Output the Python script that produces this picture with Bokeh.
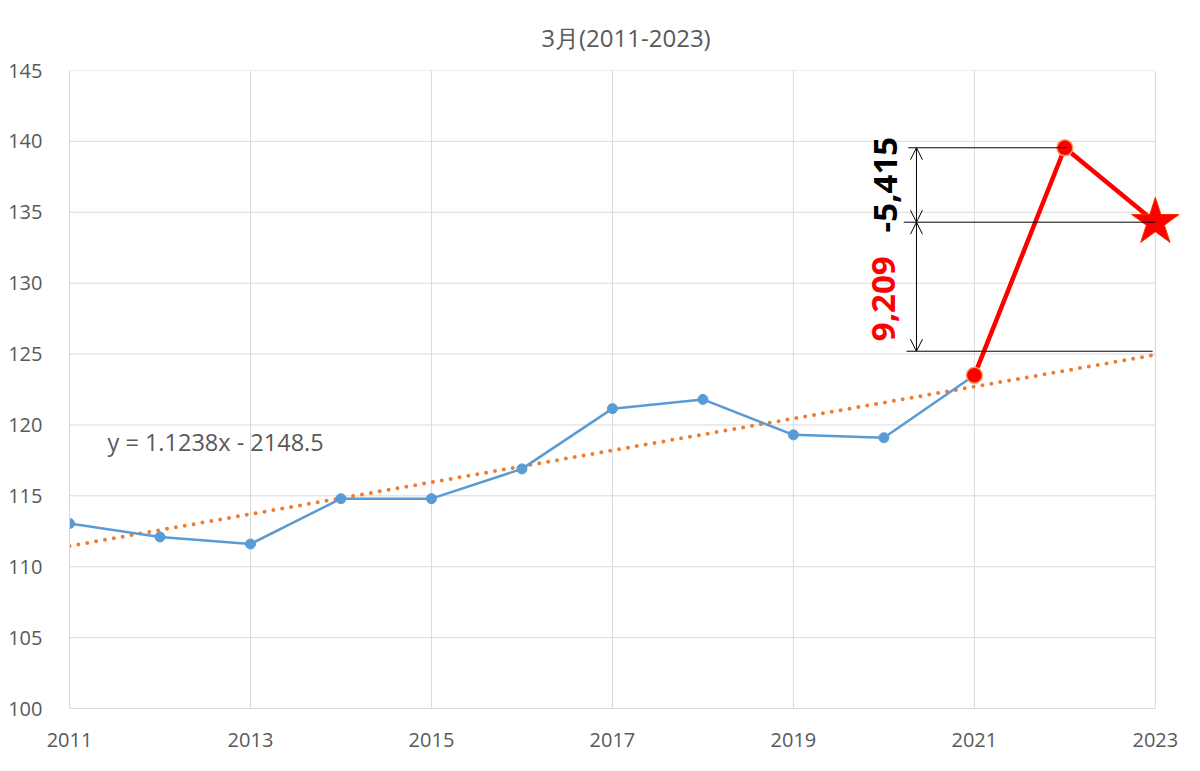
from bokeh.plotting import figure
from bokeh.models import Label, Arrow, OpenHead, FixedTicker, Range1d, Title
from bokeh.embed import file_html
from bokeh.resources import INLINE

# ---- data ----
years_blue = [2011, 2012, 2013, 2014, 2015, 2016, 2017, 2018, 2019, 2020, 2021]
values_blue = [113.05, 112.1, 111.6, 114.8, 114.8, 116.9, 121.15, 121.8, 119.3, 119.1, 123.5]
years_red = [2021, 2022, 2023]
values_red = [123.5, 139.55, 134.3]
trend_slope = 1.1238
trend_intercept = -2148.5
trend_years = [2011, 2023]
trend_values = [trend_slope * x + trend_intercept for x in trend_years]
x_ticks = [2011, 2013, 2015, 2017, 2019, 2021, 2023]
x_grid_years = [2013, 2015, 2017, 2019, 2021, 2023]
y_ticks = [100, 105, 110, 115, 120, 125, 130, 135, 140, 145]
title_text = "3月(2011-2023)"
equation_text = "y = 1.1238x - 2148.5"
diff_up_label = "9,209"
diff_down_label = "-5,415"
bracket_levels = [139.55, 134.3, 125.2]   # annotation guide levels
bracket_x_start = [2020.27, 2020.22, 2020.25]
bracket_x_end = [2022.02, 2023.0, 2022.97]
arrow_x = 2020.36

GRAY = "#595959"
GRID = "#D9D9D9"
X_MIN, X_MAX = 2011, 2023
Y_MIN, Y_MAX = 100, 145

p = figure(width=1184, height=755, output_backend="svg", toolbar_location=None,
           x_range=Range1d(X_MIN, X_MAX + 0.3), y_range=Range1d(Y_MIN, Y_MAX),
           min_border_left=69, min_border_right=2, min_border_top=70, min_border_bottom=47)
p.outline_line_color = None
p.background_fill_color = "white"

p.add_layout(Title(text=title_text, align="center", text_font="Open Sans", text_font_size="24px",
                   text_color=GRAY, text_font_style="normal", standoff=34), "above")

for ax in (p.xaxis[0], p.yaxis[0]):
    ax.major_tick_line_color = None
    ax.minor_tick_line_color = None
    ax.axis_line_color = GRID
    ax.major_label_text_color = GRAY
    ax.major_label_text_font = "Open Sans"
    ax.major_label_text_font_size = "20px"
p.xaxis[0].ticker = FixedTicker(ticks=x_ticks)
p.yaxis[0].ticker = FixedTicker(ticks=y_ticks)
p.xaxis[0].bounds = (X_MIN, X_MAX)
p.xaxis[0].major_label_standoff = 18
p.yaxis[0].major_label_standoff = 21
p.xgrid.visible = False
p.ygrid.visible = False

# gridlines limited to the axis extent
p.segment(x0=[X_MIN] * (len(y_ticks) - 1), x1=[X_MAX] * (len(y_ticks) - 1),
          y0=y_ticks[1:], y1=y_ticks[1:], line_color=GRID, line_width=1)
p.segment(x0=x_grid_years, x1=x_grid_years, y0=[Y_MIN] * len(x_grid_years),
          y1=[Y_MAX] * len(x_grid_years), line_color=GRID, line_width=1)

# trend line
p.line(trend_years, trend_values, line_color="#ED7D31", line_width=4,
       line_dash="0 9", line_cap="round")

# blue series
p.line(years_blue, values_blue, line_color="#5B9BD5", line_width=2.5)
p.scatter(years_blue, values_blue, size=10, fill_color="#5B9BD5", line_color="#5B9BD5")

# red series
p.line(years_red, values_red, line_color="#FF0000", line_width=4.5)
p.scatter(years_red[:2], values_red[:2], size=16, fill_color="#FF0000", line_color="#F4A460", line_width=1.5)
p.scatter(years_red[2:], values_red[2:], marker="star", size=50, fill_color="#FF0000", line_color="#FF3300")

# bracket lines
for lvl, x0, x1 in zip(bracket_levels, bracket_x_start, bracket_x_end):
    p.line([x0, x1], [lvl, lvl], line_color="black", line_width=1)

for y0, y1 in [(bracket_levels[0], bracket_levels[1]), (bracket_levels[1], bracket_levels[2])]:
    p.add_layout(Arrow(x_start=arrow_x, y_start=y0, x_end=arrow_x, y_end=y1,
                       line_color="black", line_width=1,
                       start=OpenHead(size=12, line_color="black", line_width=1),
                       end=OpenHead(size=12, line_color="black", line_width=1)))

p.add_layout(Label(x=2020.02, y=136.95, text=diff_down_label,
                   angle=90, angle_units="deg", text_align="center", text_baseline="middle",
                   text_font="Open Sans", text_font_style="bold", text_font_size="33px",
                   text_color="black"))
p.add_layout(Label(x=2020.0, y=128.9, text=diff_up_label,
                   angle=90, angle_units="deg", text_align="center", text_baseline="middle",
                   text_font="Open Sans", text_font_style="bold", text_font_size="33px",
                   text_color="#FF0000"))

# equation
p.add_layout(Label(x=2011.42, y=118.8, text=equation_text, text_align="left", text_baseline="middle",
                   text_font="Open Sans", text_font_size="23.5px", text_color=GRAY))

open("out.html", "w").write(file_html(p, INLINE))
